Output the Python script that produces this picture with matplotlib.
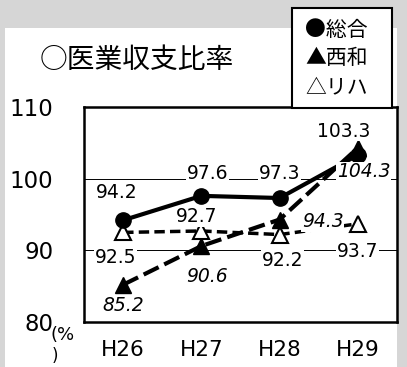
import matplotlib
matplotlib.use("Agg")
import matplotlib.pyplot as plt
from matplotlib.patches import Rectangle

# data
years = ['H26', 'H27', 'H28', 'H29']
sogo = [94.2, 97.6, 97.3, 103.3]
seiwa = [85.2, 90.6, 94.3, 104.3]
riha = [92.5, 92.7, 92.2, 93.7]
yticks = [80, 90, 100, 110]

# label offsets in pixels (dx, dy) for each point
sogo_off = [(-6, 28), (6, 22), (0, 25), (-14, 24)]
seiwa_off = [(0, -21), (6, -30), (43, -2), (6, -24)]
riha_off = [(-8, -25), (-5, 14), (3, -26), (0, -28)]

W, H = 407, 367
plt.rcParams['font.family'] = ['DejaVu Sans', 'Noto Sans CJK JP']
fig = plt.figure(figsize=(W / 100, H / 100), dpi=100, facecolor='#d6d6d6')

# white panel over the grey scanned background
fig.add_artist(Rectangle((5 / W, 0), (397 - 5) / W, (H - 28) / H,
                         transform=fig.transFigure, facecolor='white',
                         edgecolor='none', zorder=-1))

ax = fig.add_axes([84 / W, 1 - 322 / H, (397 - 84) / W, (322 - 107) / H])
x = list(range(len(years)))

for v in (90, 100):
    ax.axhline(v, color='black', lw=0.7, zorder=1)

ax.plot(x, riha, color='black', lw=2.5, ls=(0, (3, 1.5)), marker='^',
        ms=11, mfc='white', mec='black', mew=1.5, zorder=3)
ax.plot(x, seiwa, color='black', lw=3, ls=(0, (4, 1.5)), marker='^',
        ms=12, mfc='black', mec='black', zorder=4)
ax.plot(x, sogo, color='black', lw=3, marker='o', ms=11,
        mfc='black', mec='black', zorder=5)

box = dict(facecolor='white', edgecolor='none', pad=0.5)
for xi, v, off in zip(x, sogo, sogo_off):
    ax.annotate(f'{v:.1f}', (xi, v), xytext=off, textcoords='offset pixels',
                ha='center', va='center', fontsize=13.5, bbox=box, zorder=6)
for xi, v, off in zip(x, seiwa, seiwa_off):
    ax.annotate(f'{v:.1f}', (xi, v), xytext=off, textcoords='offset pixels',
                ha='center', va='center', fontsize=13.5, style='italic',
                bbox=box, zorder=6)
for xi, v, off in zip(x, riha, riha_off):
    ax.annotate(f'{v:.1f}', (xi, v), xytext=off, textcoords='offset pixels',
                ha='center', va='center', fontsize=13.5, bbox=box, zorder=6)

ax.set_xlim(-0.5, 3.5)
ax.set_ylim(80, 110)
ax.set_xticks(x)
ax.set_xticklabels(years, fontsize=15.5)
ax.set_yticks(yticks)
ax.set_yticklabels([str(t) for t in yticks], fontsize=16.5)
ax.tick_params(axis='both', length=0)
ax.tick_params(axis='x', pad=13)
ax.tick_params(axis='y', pad=22)
for s in ax.spines.values():
    s.set_linewidth(1.8)
    s.set_color('black')

fig.text(40 / W, 1 - 60 / H, '○医業収支比率', fontsize=20,
         family=['Noto Sans CJK JP'], va='center', ha='left')
fig.text(50 / W, 1 - 335 / H, '(%', fontsize=13, va='center', ha='left')
fig.text(52 / W, 1 - 356 / H, ')', fontsize=12, va='center', ha='left')

# legend box drawn by hand
fig.add_artist(Rectangle((292 / W, 1 - 108 / H), 100 / W, 100 / H,
                         transform=fig.transFigure, facecolor='white',
                         edgecolor='black', lw=1.5, zorder=10))
legend_items = [('●総合', 'normal'), ('▲西和', 'italic'), ('△リハ', 'normal')]
for i, (lab, st) in enumerate(legend_items):
    fig.text(305 / W, 1 - (30 + 28.5 * i) / H, lab, fontsize=15,
             family=['Noto Sans CJK JP'], style=st, va='center', ha='left',
             zorder=11)

fig.savefig('out.png', dpi=100, facecolor=fig.get_facecolor())
